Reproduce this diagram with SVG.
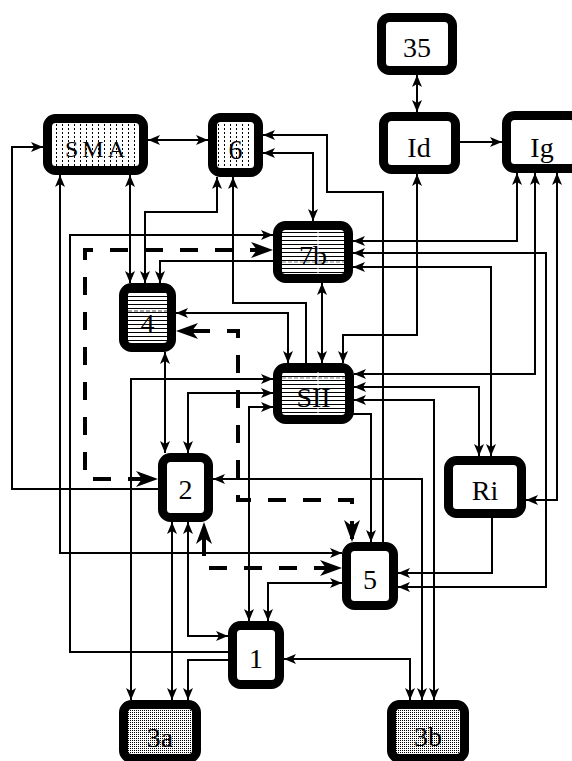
<svg xmlns="http://www.w3.org/2000/svg" width="572" height="761" viewBox="0 0 572 761">
<style>
.n{stroke:#000;stroke-width:9}
.w{fill:#fff}
.d{fill:url(#dots)}
.h{fill:url(#hl)}
.s{fill:url(#st)}
.t{font-family:"Liberation Serif","Times New Roman",serif;font-size:28px;text-anchor:middle;fill:#000}
.c path{fill:none;stroke:#000;stroke-width:2}
.c .b{marker-start:url(#a);marker-end:url(#a)}
.c .e{marker-end:url(#a)}
.c .dl{stroke-width:4;stroke-dasharray:18 17;marker-start:url(#A);marker-end:url(#A)}
</style>
<defs>
<pattern id="dots" width="6" height="4" patternUnits="userSpaceOnUse">
<rect width="6" height="4" fill="#fff"/>
<rect x="2" y="0" width="1" height="2" fill="#000"/>
</pattern>
<pattern id="hl" width="4" height="4" patternUnits="userSpaceOnUse">
<rect width="4" height="4" fill="#fff"/>
<rect x="0" y="0" width="4" height="1" fill="#000"/>
</pattern>
<pattern id="st" width="2" height="2" patternUnits="userSpaceOnUse">
<rect width="2" height="2" fill="#fff"/>
<rect x="0" y="0" width="1" height="1" fill="#000"/>
</pattern>
<marker id="a" markerUnits="userSpaceOnUse" viewBox="0 0 12 10" markerWidth="12" markerHeight="10" refX="12" refY="5" orient="auto-start-reverse">
<path d="M0,0 L12,5 L0,10 L3,5 z" fill="#000"/>
</marker>
<marker id="A" markerUnits="userSpaceOnUse" viewBox="0 0 22 16" markerWidth="22" markerHeight="16" refX="22" refY="8" orient="auto-start-reverse">
<path d="M0,0 L22,8 L0,16 L6,8 z" fill="#000"/>
</marker>
</defs>

<g id="n35"><rect class="n w" x="381.5" y="17.5" width="71" height="53" rx="8"/><text class="t" x="417" y="57">35</text></g>
<g id="nId"><rect class="n w" x="383.5" y="116.5" width="72" height="53" rx="8"/><text class="t" x="419" y="157">Id</text></g>
<g id="nIg"><rect class="n w" x="506.5" y="115.5" width="72" height="53" rx="8"/><text class="t" x="542" y="157">Ig</text></g>
<g id="nSMA"><rect class="n d" x="47.5" y="118.5" width="96" height="52" rx="8"/><text class="t" x="97" y="157" style="font-size:24px;letter-spacing:4px">SMA</text></g>
<g id="n6"><rect class="n d" x="212.5" y="117.5" width="46" height="55" rx="8"/><text class="t" x="235.5" y="159">6</text></g>
<g id="n7b"><rect class="n h" x="277.5" y="225.5" width="71" height="53" rx="8"/><line x1="318" y1="230" x2="318" y2="274" stroke="#fff" stroke-width="1"/><line x1="282" y1="262" x2="344" y2="262" stroke="#aaa" stroke-width="1.5" stroke-dasharray="4 2"/><text class="t" x="313" y="265">7b</text></g>
<g id="n4"><rect class="n h" x="123.5" y="287.5" width="48" height="60" rx="8"/><line x1="128" y1="311" x2="167" y2="311" stroke="#888" stroke-width="1.5" stroke-dasharray="4 2"/><text class="t" x="147.5" y="333">4</text></g>
<g id="nSII"><rect class="n h" x="277.5" y="367.5" width="72" height="52" rx="8"/><line x1="318" y1="372" x2="318" y2="415" stroke="#fff" stroke-width="1"/><line x1="282" y1="378" x2="345" y2="378" stroke="#aaa" stroke-width="1.5" stroke-dasharray="4 2"/><text class="t" x="313.5" y="407">SII</text></g>
<g id="n2"><rect class="n w" x="162.5" y="457.5" width="46" height="60" rx="8"/><text class="t" x="185.5" y="499">2</text></g>
<g id="nRi"><rect class="n w" x="448.5" y="460.5" width="73" height="53" rx="8"/><text class="t" x="485" y="500">Ri</text></g>
<g id="n5"><rect class="n w" x="346.5" y="546.5" width="47" height="59" rx="8"/><text class="t" x="370" y="589">5</text></g>
<g id="n1"><rect class="n w" x="232.5" y="625.5" width="47" height="59" rx="8"/><text class="t" x="256" y="668">1</text></g>
<g id="n3a"><rect class="n s" x="123.5" y="704.5" width="73" height="54" rx="8"/><text class="t" x="160" y="747">3a</text></g>
<g id="n3b"><rect class="n s" x="391.5" y="704.5" width="73" height="54" rx="8"/><text class="t" x="428" y="746">3b</text></g>

<g id="connectors" class="c">
<path class="b" d="M417,75 V112"/>
<path class="e" d="M460,142 H502"/>
<path class="b" d="M148,140 H208"/>
<path class="e" d="M158,489 H12 V147 H43"/>
<path class="b" d="M60,175 V553 H342"/>
<path class="b" d="M130,175 V283"/>
<path class="b" d="M217,177 V212 H145 V283"/>
<path class="e" d="M306,363 V303 H233 V177"/>
<path class="e" d="M383,542 V192 H327 V135 H263"/>
<path class="b" d="M263,153 H313 V221"/>
<path class="e" d="M228,652 H70 V235 H273"/>
<path class="e" d="M273,261 H160 V283"/>
<path class="b" d="M322,283 V363"/>
<path class="b" d="M353,241 H517 V173"/>
<path class="b" d="M353,253 H546 V587 H398"/>
<path class="b" d="M353,267 H491 V456"/>
<path class="b" d="M354,374 H535 V173"/>
<path class="b" d="M557,173 V500 H526"/>
<path class="b" d="M343,363 V335 H417 V174"/>
<path class="b" d="M176,313 H288 V363"/>
<path class="b" d="M273,379 H131 V700"/>
<path class="b" d="M273,393 H188 V453"/>
<path class="b" d="M273,407 H249 V621"/>
<path class="b" d="M165,352 V453"/>
<path class="b" d="M354,387 H479 V456"/>
<path class="b" d="M354,400 H434 V700"/>
<path class="e" d="M352,414 H371 V542"/>
<path class="b" d="M422,700 V479 H213"/>
<path class="b" d="M172,522 V700"/>
<path class="b" d="M188,522 V636 H228"/>
<path class="e" d="M228,660 H188 V700"/>
<path class="b" d="M268,621 V583 H342"/>
<path class="b" d="M284,659 H410 V700"/>
<path class="e" d="M492,518 V573 H398"/>
<path class="dl" d="M273,250 H85 V479 H158" stroke-dashoffset="30"/>
<path class="dl" d="M176,331 H238 V500 H352 V542" stroke-dashoffset="19"/>
<path class="dl" d="M204,522 V568 H342" stroke-dashoffset="19"/>
</g>
</svg>
